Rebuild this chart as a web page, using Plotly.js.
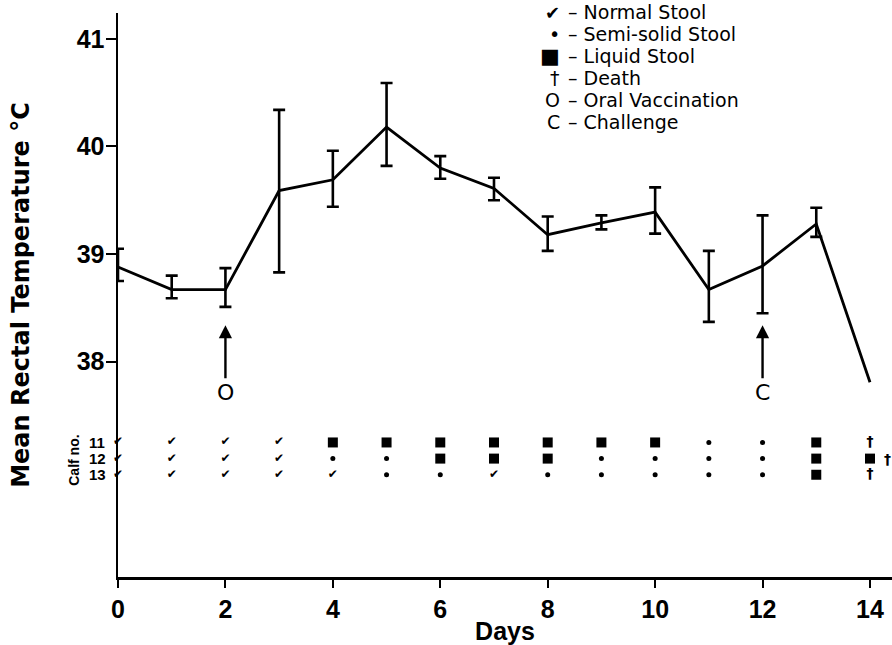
<!DOCTYPE html>
<html>
<head>
<meta charset="utf-8">
<script src="https://cdn.plot.ly/plotly-3.0.1.min.js"></script>
<style>html,body{margin:0;padding:0;background:#fff;}#chart{width:892px;height:645px;}</style>
</head>
<body>
<div id="chart"></div>
<script>
// ---- Data ----
const days = [0,1,2,3,4,5,6,7,8,9,10,11,12,13,14];
const meanTemp = [38.88,38.67,38.67,39.59,39.69,40.18,39.80,39.61,39.18,39.29,39.39,38.67,38.89,39.28,37.81];
const errUpper = [39.05,38.80,38.87,40.34,39.96,40.59,39.91,39.71,39.35,39.36,39.62,39.03,39.36,39.43,null];
const errLower = [38.75,38.59,38.51,38.83,39.44,39.82,39.70,39.50,39.03,39.23,39.19,38.37,38.45,39.16,null];

// Stool codes: N normal, S semi-solid, L liquid, D death, LD liquid + death
const calfNos = ['11','12','13'];
const calf11 = ['N','N','N','N','L','L','L','L','L','L','L','S','S','L','D'];
const calf12 = ['N','N','N','N','S','S','L','L','L','S','S','S','S','L','LD'];
const calf13 = ['N','N','N','N','N','S','S','N','S','S','S','S','S','L','D'];

const eventDays = [2, 12];
const eventLabels = ['O', 'C'];

const legendSymbols = ['\u2714', '\u2022', '\u25A0', '\u2020', 'O', 'C'];
const legendTexts = ['Normal Stool', 'Semi-solid Stool', 'Liquid Stool', 'Death', 'Oral Vaccination', 'Challenge'];

const xTicks = [0,2,4,6,8,10,12,14];
const yTicks = [38,39,40,41];

// ---- Build ----
const TXT = '"DejaVu Sans", "Liberation Sans", Arial, sans-serif';
const HEL = '"Liberation Sans", Arial, sans-serif';
const rowY = [37.25, 37.10, 36.95];
const calves = [calf11, calf12, calf13];

const eIdx = days.map((d,i)=>i).filter(i => errUpper[i] != null);

const traces = [{
  x: days, y: meanTemp, type: 'scatter', mode: 'lines',
  line: {color: '#000', width: 2.8},
  cliponaxis: false, showlegend: false, hoverinfo: 'x+y'
}, {
  x: eIdx.map(i => days[i]), y: eIdx.map(i => meanTemp[i]), type: 'scatter', mode: 'none',
  error_y: {type: 'data', symmetric: false, color: '#000', thickness: 2.6, width: 6,
    array: eIdx.map(i => +(errUpper[i]-meanTemp[i]).toFixed(3)),
    arrayminus: eIdx.map(i => +(meanTemp[i]-errLower[i]).toFixed(3))},
  cliponaxis: false, showlegend: false, hoverinfo: 'skip'
}];

const groups = {N: {x:[],y:[]}, S: {x:[],y:[]}, L: {x:[],y:[]}, D: {x:[],y:[]}, D2: {x:[],y:[]}};
calves.forEach((arr, r) => {
  arr.forEach((c, i) => {
    if (c === 'LD') { groups.L.x.push(days[i]); groups.L.y.push(rowY[r]); groups.D2.x.push(days[i]); groups.D2.y.push(rowY[r]); }
    else if (groups[c]) { groups[c].x.push(days[i]); groups[c].y.push(rowY[r]); }
  });
});

traces.push({x: groups.N.x, y: groups.N.y, type:'scatter', mode:'text', text: groups.N.x.map(()=> '\u2714'),
  textfont: {family: TXT, size: 12, color: '#000'}, textposition: 'middle center', cliponaxis: false, showlegend: false});
traces.push({x: groups.S.x, y: groups.S.y, type:'scatter', mode:'markers',
  marker: {symbol: 'circle', size: 5, color: '#000'}, cliponaxis: false, showlegend: false});
traces.push({x: groups.L.x, y: groups.L.y, type:'scatter', mode:'markers',
  marker: {symbol: 'square', size: 10, color: '#000'}, cliponaxis: false, showlegend: false});
traces.push({x: groups.D.x, y: groups.D.y, type:'scatter', mode:'text', text: groups.D.x.map(()=> '\u2020'),
  textfont: {family: TXT, size: 14, color: '#000', weight: 'bold'}, textposition: 'middle center', cliponaxis: false, showlegend: false});

const annotations = [];
// Extra death marks beside a liquid stool square
groups.D2.x.forEach((x, k) => {
  annotations.push({x: x, y: groups.D2.y[k], xref: 'x', yref: 'y', xshift: 18, text: '\u2020', showarrow: false,
    font: {family: TXT, size: 14, color: '#000', weight: 'bold'}});
});
// Event arrows
eventDays.forEach((d, i) => {
  annotations.push({x: d, y: 38.34, xref: 'x', yref: 'y', text: eventLabels[i], showarrow: true,
    arrowhead: 2, arrowsize: 1.1, arrowwidth: 2.4, arrowcolor: '#000', ax: 0, ay: 67, standoff: 0,
    font: {family: TXT, size: 22, color: '#000'}});
});
// Calf labels
calfNos.forEach((c, r) => {
  annotations.push({x: (87-118)/774, y: rowY[r], xref: 'paper', yref: 'y', text: c, showarrow: false,
    font: {family: HEL, size: 15, color: '#000', weight: 'bold'}});
});
annotations.push({x: (64-118)/774, y: 37.08, xref: 'paper', yref: 'y', text: 'Calf no.', showarrow: false, textangle: -90,
  font: {family: HEL, size: 14, color: '#000', weight: 'bold'}});
// Legend key
const legY = [12, 33.5, 55.5, 78, 100, 122];
const legSymSize = [18, 19, 21, 19, 19, 19];
legendSymbols.forEach((s, i) => {
  const py = (577 - legY[i]) / 564;
  annotations.push({x: (562-118)/774, y: py, xref: 'paper', yref: 'paper', xanchor: 'right', yanchor: 'middle',
    text: s, showarrow: false, font: {family: TXT, size: legSymSize[i], color: '#000'}});
  annotations.push({x: (566-118)/774, y: py, xref: 'paper', yref: 'paper', xanchor: 'left', yanchor: 'middle',
    text: '\u2013 ' + legendTexts[i], showarrow: false, font: {family: TXT, size: 19, color: '#000'}});
});

const layout = {
  width: 892, height: 645,
  margin: {l: 118, r: 0, t: 13, b: 68},
  paper_bgcolor: '#fff', plot_bgcolor: '#fff',
  showlegend: false,
  xaxis: {
    range: [0, 14.41], tickvals: xTicks, ticktext: xTicks.map(String),
    ticks: 'outside', ticklen: 8, tickwidth: 2, tickcolor: '#000',
    showline: true, linecolor: '#000', linewidth: 2.5, showgrid: false, zeroline: false,
    tickfont: {family: HEL, size: 25, color: '#000', weight: 'bold'},
    title: {text: 'Days', standoff: 4, font: {family: HEL, size: 25, color: '#000', weight: 'bold'}}
  },
  yaxis: {
    range: [36, 41.24], tickvals: yTicks, ticktext: yTicks.map(String),
    ticks: 'outside', ticklen: 10, tickwidth: 2, tickcolor: '#000', ticklabelstandoff: -4,
    showline: true, linecolor: '#000', linewidth: 2.5, showgrid: false, zeroline: false,
    tickfont: {family: HEL, size: 25, color: '#000', weight: 'bold'},
    title: {text: 'Mean Rectal Temperature \u00B0C', standoff: 41, font: {family: TXT, size: 24, color: '#000', weight: 'bold'}}
  },
  annotations: annotations
};

Plotly.newPlot('chart', traces, layout, {displayModeBar: false, staticPlot: true});
</script>
</body>
</html>
